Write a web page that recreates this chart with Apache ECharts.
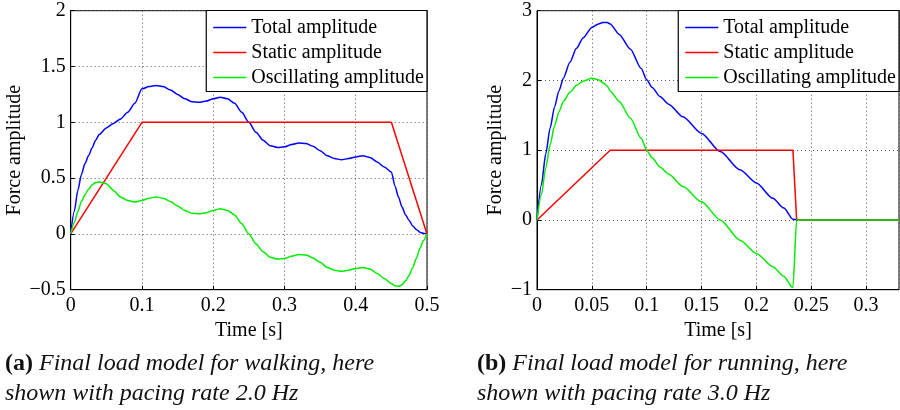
<!DOCTYPE html>
<html><head><meta charset="utf-8">
<script src="https://cdn.jsdelivr.net/npm/echarts@6/dist/echarts.min.js"></script>
<style>html,body{margin:0;padding:0;background:#fff}#c{width:900px;height:410px}</style>
</head><body><div id="c"></div>
<script>
const seriesNames = ['Total amplitude', 'Static amplitude', 'Oscillating amplitude'];
const seriesColors = ['#0000ff', '#ff0000', '#00ee00'];

// (a) walking, 2.0 Hz
const walkTime = [0,0.005,0.01,0.015,0.02,0.025,0.03,0.035,0.04,0.05,0.06,0.07,0.08,0.09,0.1,0.11,0.12,0.13,0.14,0.15,0.16,0.17,0.18,0.19,0.2,0.21,0.22,0.23,0.24,0.25,0.26,0.27,0.28,0.29,0.3,0.31,0.32,0.33,0.34,0.35,0.36,0.37,0.38,0.39,0.4,0.41,0.42,0.43,0.44,0.45,0.455,0.46,0.465,0.47,0.475,0.48,0.485,0.49,0.495,0.5];
const walkTotal = [0,0.2,0.39,0.53,0.63,0.70,0.77,0.84,0.89,0.95,0.99,1.03,1.09,1.17,1.30,1.32,1.33,1.32,1.29,1.25,1.21,1.185,1.18,1.19,1.21,1.225,1.21,1.17,1.09,1.00,0.91,0.84,0.79,0.775,0.78,0.80,0.815,0.81,0.785,0.745,0.70,0.675,0.665,0.675,0.69,0.70,0.685,0.645,0.60,0.555,0.43,0.33,0.24,0.17,0.12,0.07,0.04,0.015,0.005,0];
const walkOsc = [0,0.10,0.20,0.29,0.35,0.40,0.44,0.46,0.466,0.45,0.39,0.33,0.30,0.285,0.30,0.32,0.33,0.32,0.29,0.25,0.21,0.185,0.18,0.19,0.21,0.225,0.21,0.17,0.09,0.0,-0.09,-0.16,-0.21,-0.225,-0.22,-0.20,-0.185,-0.19,-0.215,-0.255,-0.30,-0.325,-0.335,-0.325,-0.31,-0.30,-0.315,-0.355,-0.40,-0.445,-0.465,-0.47,-0.455,-0.42,-0.37,-0.30,-0.22,-0.13,-0.06,0];
const walkStaticTime = [0, 0.1, 0.45, 0.5];
const walkStatic = [0, 1, 1, 0];

// (b) running, 3.0 Hz
const runTime = [0,0.004,0.008,0.012,0.016,0.02,0.024,0.03,0.036,0.042,0.05,0.056,0.06,0.064,0.0667,0.075,0.085,0.095,0.1,0.105,0.112,0.12,0.133,0.15,0.167,0.185,0.2,0.215,0.225,0.2333,0.2367,0.33];
const runTotal = [0,0.5,0.95,1.32,1.62,1.85,2.03,2.26,2.46,2.61,2.76,2.81,2.83,2.83,2.81,2.66,2.45,2.17,2.01,1.90,1.77,1.66,1.48,1.24,0.98,0.72,0.53,0.31,0.17,0.01,0,0];
const runOsc = [0,0.36,0.75,1.08,1.35,1.55,1.70,1.83,1.93,1.99,2.03,2.01,1.97,1.92,1.85,1.70,1.46,1.17,1.0,0.89,0.76,0.66,0.48,0.26,0.0,-0.29,-0.48,-0.67,-0.81,-0.97,0,0];
const runStaticTime = [0, 0.0667, 0.2333, 0.2367, 0.33];
const runStatic = [0, 1, 1, 0, 0];

const walkY = {min: -0.5, max: 2, interval: 0.5};
const runY = {min: -1, max: 3, interval: 1};
const walkX = {min: 0, max: 0.5, interval: 0.1};
const runX = {min: 0, max: 0.33, interval: 0.05};

const captionA = ['(a)', 'Final load model for walking, here', 'shown with pacing rate 2.0 Hz'];
const captionB = ['(b)', 'Final load model for running, here', 'shown with pacing rate 3.0 Hz'];

const FF = 'Liberation Serif';
const zip = (xs, ys) => xs.map((x, i) => [x, ys[i]]);
const minusFmt = v => String(v).replace('-', '\u2212');

function xAxisCfg(gi, r) {
  return {
    type: 'value', gridIndex: gi, min: r.min, max: r.max, interval: r.interval,
    name: 'Time [s]', nameLocation: 'middle', nameGap: 24,
    nameTextStyle: {fontFamily: FF, fontSize: 20, color: '#000'},
    axisLine: {show: true, onZero: false, lineStyle: {color: '#000', width: 1}},
    axisTick: {show: true, inside: true, length: 4, lineStyle: {color: '#000'}},
    axisLabel: {fontFamily: FF, fontSize: 20, color: '#000', margin: 6, showMaxLabel: gi === 0, formatter: minusFmt},
    splitLine: {show: true, lineStyle: {type: [1, 3], color: '#555', width: 1}}
  };
}
function yAxisCfg(gi, r, gap) {
  return {
    type: 'value', gridIndex: gi, min: r.min, max: r.max, interval: r.interval,
    name: 'Force amplitude', nameLocation: 'middle', nameGap: gap,
    nameTextStyle: {fontFamily: FF, fontSize: 20, color: '#000'},
    axisLine: {show: true, onZero: false, lineStyle: {color: '#000', width: 1}},
    axisTick: {show: true, inside: true, length: 4, lineStyle: {color: '#000'}},
    axisLabel: {fontFamily: FF, fontSize: 20, color: '#000', margin: 5, formatter: minusFmt},
    splitLine: {show: true, lineStyle: {type: [1, 3], color: '#555', width: 1}}
  };
}
function lineSeries(gi, name, color, data, z, smooth) {
  return {
    type: 'line', name: name, xAxisIndex: gi, yAxisIndex: gi, data: data,
    symbol: 'none', smooth: smooth, smoothMonotone: 'x', z: z,
    lineStyle: {color: color, width: 1.5}, itemStyle: {color: color}
  };
}
function legendCfg(rightPx) {
  return {
    orient: 'vertical', right: rightPx, top: 10.5, data: seriesNames,
    icon: 'rect', itemWidth: 33, itemHeight: 1.6, itemGap: 5, padding: [7, 3, 4, 7],
    borderColor: '#000', borderWidth: 1.2, backgroundColor: '#fff', borderRadius: 0,
    selectedMode: false,
    textStyle: {fontFamily: FF, fontSize: 20, color: '#000', lineHeight: 20}
  };
}
function captionCfg(leftPx, cap) {
  const rich = {
    b: {fontFamily: FF, fontWeight: 'bold', fontStyle: 'normal', fontSize: 24, lineHeight: 30, color: '#111'},
    i: {fontFamily: FF, fontWeight: 'normal', fontStyle: 'italic', fontSize: 24, lineHeight: 30, color: '#111'}
  };
  return {
    left: leftPx, top: 349, padding: 0,
    text: '{b|' + cap[0] + '}{i| ' + cap[1] + '}\n{i|' + cap[2] + '}',
    textStyle: {rich: rich, lineHeight: 30}
  };
}

const chart = echarts.init(document.getElementById('c'), null, {renderer: 'canvas'});
chart.setOption({
  animation: false,
  backgroundColor: '#fff',
  title: [captionCfg(5, captionA), captionCfg(477, captionB)],
  grid: [
    {left: 70.7, top: 10.7, width: 356.3, height: 279, show: true, borderColor: '#000', borderWidth: 1, backgroundColor: 'transparent'},
    {left: 537, top: 10.7, width: 362, height: 279, show: true, borderColor: '#000', borderWidth: 1, backgroundColor: 'transparent'}
  ],
  xAxis: [xAxisCfg(0, walkX), xAxisCfg(1, runX)],
  yAxis: [yAxisCfg(0, walkY, 46), yAxisCfg(1, runY, 31)],
  legend: [legendCfg(900 - 427), legendCfg(900 - 899)],
  series: [
    lineSeries(0, seriesNames[0], seriesColors[0], zip(walkTime, walkTotal), 3, 0.25),
    lineSeries(0, seriesNames[1], seriesColors[1], zip(walkStaticTime, walkStatic), 4, false),
    lineSeries(0, seriesNames[2], seriesColors[2], zip(walkTime, walkOsc), 5, 0.25),
    lineSeries(1, seriesNames[0], seriesColors[0], zip(runTime, runTotal), 3, 0.25),
    lineSeries(1, seriesNames[1], seriesColors[1], zip(runStaticTime, runStatic), 4, false),
    lineSeries(1, seriesNames[2], seriesColors[2], zip(runTime, runOsc), 5, 0.25)
  ]
});
</script>
</body></html>
